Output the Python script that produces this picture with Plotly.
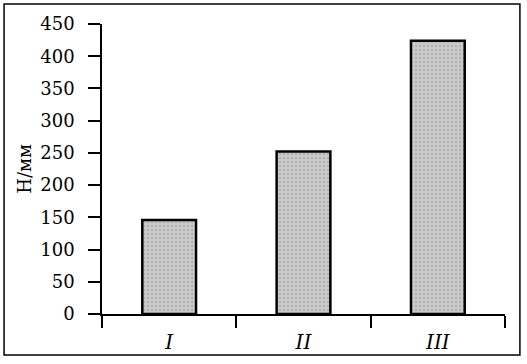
import plotly.graph_objects as go

categories = ["I", "II", "III"]
values = [146, 252, 424]
y_ticks = [0, 50, 100, 150, 200, 250, 300, 350, 400, 450]

fig = go.Figure()
fig.add_trace(go.Bar(
    x=categories, y=values, width=0.4,
    marker=dict(color="#c4c4c4", line=dict(color="black", width=2.5),
                pattern=dict(shape=".", fgcolor="#959595", bgcolor="#cbcbcb", size=4, solidity=0.3)),
))

serif = "DejaVu Serif"
fig.update_layout(
    width=527, height=364,
    margin=dict(l=102, r=22, t=24, b=50),
    plot_bgcolor="white", paper_bgcolor="white",
    showlegend=False,
    font=dict(family=serif, color="black"),
    xaxis=dict(
        type="category", range=[-0.5, 2.5], automargin=False,
        tickson="boundaries", ticks="outside", ticklen=12, tickwidth=1.5, tickcolor="black",
        showline=True, linecolor="black", linewidth=1.5, showgrid=False, zeroline=False,
        tickfont=dict(family=serif, size=20, style="italic"),
        ticklabelstandoff=9,
    ),
    yaxis=dict(
        range=[0, 450], tickvals=y_ticks, automargin=False,
        ticks="outside", ticklen=12, tickwidth=1.5, tickcolor="black",
        showline=True, linecolor="black", linewidth=1.5, showgrid=False, zeroline=False,
        tickfont=dict(family=serif, size=18),
        ticklabelstandoff=10,
    ),
    annotations=[dict(
        text="Н/мм", xref="paper", yref="paper", x=-0.194, y=0.5, textangle=-90,
        showarrow=False, font=dict(family=serif, size=18), xanchor="center", yanchor="middle",
    )],
    shapes=[dict(
        type="rect", xref="paper", yref="paper",
        x0=-0.243, x1=1.037, y0=-0.141, y1=1.069,
        line=dict(color="black", width=1.5), layer="below",
    )],
)

fig.write_html("out.html")
